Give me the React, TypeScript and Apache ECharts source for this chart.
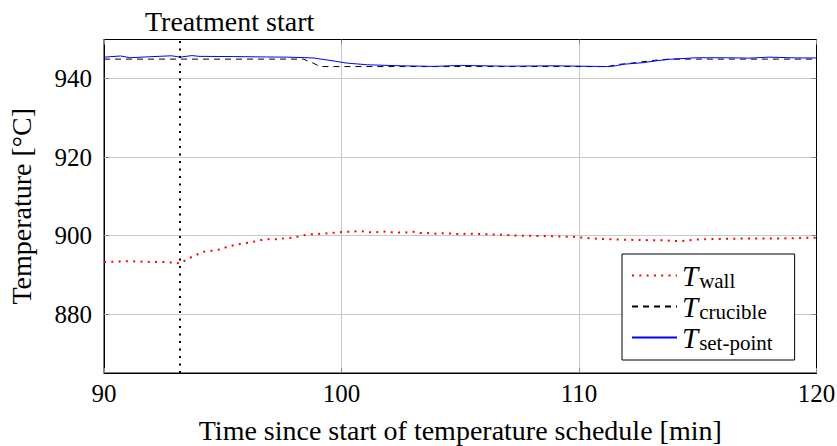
import React, { useEffect, useRef } from 'react';
import * as echarts from 'echarts';

// ---- data ----
const wallTime = [90.0, 90.5, 91.0, 91.5, 92.0, 92.5, 93.0, 93.2, 93.45, 93.7, 94.0, 94.3, 94.6, 94.9, 95.2, 95.5, 95.8, 96.1, 96.4, 96.7, 97.0, 97.3, 97.7, 98.0, 98.3, 98.6, 98.9, 99.2, 99.5, 99.8, 100.1, 100.4, 100.8, 101.1, 101.4, 101.7, 102.0, 102.4, 102.7, 103.0, 103.3, 103.6, 103.9, 104.2, 104.5, 104.8, 105.5, 106.5, 107.5, 108.5, 109.8, 110.5, 111.7, 112.5, 113.6, 114.3, 114.9, 116.1, 117.2, 118.6, 119.8, 120.0];
const wallTemp = [893.3, 893.4, 893.5, 893.4, 893.3, 893.3, 893.1, 892.9, 893.8, 894.6, 895.4, 896.1, 896.2, 896.5, 897.2, 897.6, 898.0, 898.2, 898.6, 899.0, 899.1, 899.1, 899.4, 899.5, 900.0, 900.3, 900.4, 900.5, 900.7, 900.8, 901.0, 901.0, 901.2, 900.9, 900.8, 901.1, 900.9, 900.8, 900.8, 901.0, 900.7, 900.7, 900.5, 900.6, 900.6, 900.4, 900.5, 900.3, 900.0, 899.9, 899.7, 899.3, 899.0, 898.9, 898.8, 898.6, 899.0, 899.2, 899.3, 899.3, 899.5, 899.5];

const crucibleTime = [90.0, 98.4, 98.8, 99.1, 104.0, 111.2, 111.6, 112.4, 113.2, 113.8, 120.0];
const crucibleTemp = [945.0, 945.0, 944.0, 943.1, 943.1, 943.1, 943.6, 944.1, 944.7, 945.0, 945.0];

const setpointTime = [90.0, 90.7, 91.1, 91.9, 92.85, 93.2, 93.7, 94.0, 95.45, 96.85, 97.7, 98.8, 99.6, 100.2, 101.1, 102.5, 103.9, 105.0, 107.0, 109.0, 111.2, 111.45, 111.9, 112.7, 113.3, 113.8, 114.95, 116.2, 117.2, 118.0, 119.2, 120.0];
const setpointTemp = [945.5, 945.8, 945.35, 945.6, 945.85, 945.5, 945.9, 945.7, 945.65, 945.55, 945.5, 945.3, 944.6, 944.0, 943.55, 943.3, 943.15, 943.4, 943.2, 943.3, 943.1, 943.2, 943.7, 944.1, 944.6, 944.95, 945.35, 945.35, 945.25, 945.5, 945.3, 945.3];

const xTicks = [90, 100, 110, 120];
const yTicks = [880, 900, 920, 940];
const treatmentStart = 93.2;

const seriesNames = ['wall', 'crucible', 'set-point'];

const zip = (a: number[], b: number[]) => a.map((v, i) => [v, b[i]]);

const FONT = "'Liberation Serif', 'Times New Roman', serif";

export default function App() {
  const ref = useRef<HTMLDivElement>(null);
  useEffect(() => {
    const chart = echarts.init(ref.current!, null, { renderer: 'svg' });
    const gridColor = '#c8c8c8';
    const tickColor = '#8a8a8a';
    chart.setOption({
      animation: false,
      backgroundColor: '#fff',
      textStyle: { fontFamily: FONT },
      title: {
        text: 'Treatment start',
        left: 145,
        top: 7,
        padding: 0,
        textStyle: { fontFamily: FONT, fontSize: 28, fontWeight: 'normal', color: '#000' },
      },
      grid: {
        left: 104, right: 20.5, top: 39.5, bottom: 73,
        containLabel: false, outerBoundsMode: 'none',
        show: true, borderColor: '#000', borderWidth: 1, backgroundColor: 'transparent',
      },
      xAxis: [
        {
          type: 'value', min: 90, max: 120, interval: 10,
          name: 'Time since start of temperature schedule [min]',
          nameLocation: 'middle', nameGap: 43,
          nameTextStyle: { fontFamily: FONT, fontSize: 28, color: '#000' },
          axisLine: { show: true, lineStyle: { color: '#000', width: 1 } },
          axisTick: { show: true, inside: true, length: 5, lineStyle: { color: tickColor } },
          axisLabel: { fontFamily: FONT, fontSize: 25, color: '#000', margin: 8, formatter: (v: number) => (xTicks.includes(v) ? String(v) : '') },
          splitLine: { show: true, lineStyle: { color: gridColor, width: 1 } },
        },
        {
          type: 'value', min: 90, max: 120, interval: 10, position: 'top',
          axisLine: { show: true, lineStyle: { color: '#000', width: 1 } },
          axisTick: { show: true, inside: true, length: 5, lineStyle: { color: tickColor } },
          axisLabel: { show: false }, splitLine: { show: false },
        },
      ],
      yAxis: [
        {
          type: 'value', min: 865, max: 950,
          name: 'Temperature [°C]',
          nameLocation: 'middle', nameGap: 69,
          nameTextStyle: { fontFamily: FONT, fontSize: 28, color: '#000' },
          axisLine: { show: true, lineStyle: { color: '#000', width: 1 } },
          axisTick: { show: true, inside: true, length: 5, lineStyle: { color: tickColor }, customValues: yTicks },
          axisLabel: { fontFamily: FONT, fontSize: 25, color: '#000', margin: 12, customValues: yTicks },
          splitLine: { show: true, lineStyle: { color: gridColor, width: 1 } },
        },
        {
          type: 'value', min: 865, max: 950, position: 'right',
          axisLine: { show: true, lineStyle: { color: '#000', width: 1 } },
          axisTick: { show: true, inside: true, length: 5, lineStyle: { color: tickColor }, customValues: yTicks },
          axisLabel: { show: false }, splitLine: { show: false },
        },
      ],
      legend: {
        orient: 'vertical',
        left: 622, top: 254,
        backgroundColor: '#fff', borderColor: '#000', borderWidth: 1, borderRadius: 0,
        padding: [7, 22, 7, 9],
        itemWidth: 45, itemHeight: 14, itemGap: 1,
        itemStyle: { opacity: 0, color: 'transparent', borderWidth: 0 },
        data: seriesNames,
        formatter: (name: string) => `{t|T}{s|${name}}`,
        textStyle: {
          color: '#000',
          fontFamily: FONT,
          rich: {
            t: { fontFamily: FONT, fontStyle: 'italic', fontSize: 29, color: '#000' },
            s: { fontFamily: FONT, fontSize: 21, color: '#000', padding: [10, 0, 0, 1] },
          },
        },
      },
      series: [
        {
          name: 'wall', type: 'line', showSymbol: false, symbol: 'none',
          data: zip(wallTime, wallTemp),
          lineStyle: { color: '#ff0000', width: 2, type: [2, 5.3] },
          itemStyle: { color: '#ff0000' },
        },
        {
          name: 'crucible', type: 'line', showSymbol: false, symbol: 'none',
          data: zip(crucibleTime, crucibleTemp),
          lineStyle: { color: '#000', width: 1, type: [6, 5] },
          itemStyle: { color: '#000' },
        },
        {
          name: 'set-point', type: 'line', showSymbol: false, symbol: 'none',
          data: zip(setpointTime, setpointTemp),
          lineStyle: { color: '#0000ff', width: 1, type: 'solid' },
          itemStyle: { color: '#0000ff' },
          markLine: {
            silent: true, symbol: ['none', 'none'], label: { show: false },
            lineStyle: { color: '#000', width: 2, type: [2, 5.5] },
            data: [{ xAxis: treatmentStart }],
          },
        },
      ],
    });
    return () => chart.dispose();
  }, []);
  return <div ref={ref} style={{ position: 'absolute', left: 0, top: 0, width: 837, height: 446 }} />;
}
